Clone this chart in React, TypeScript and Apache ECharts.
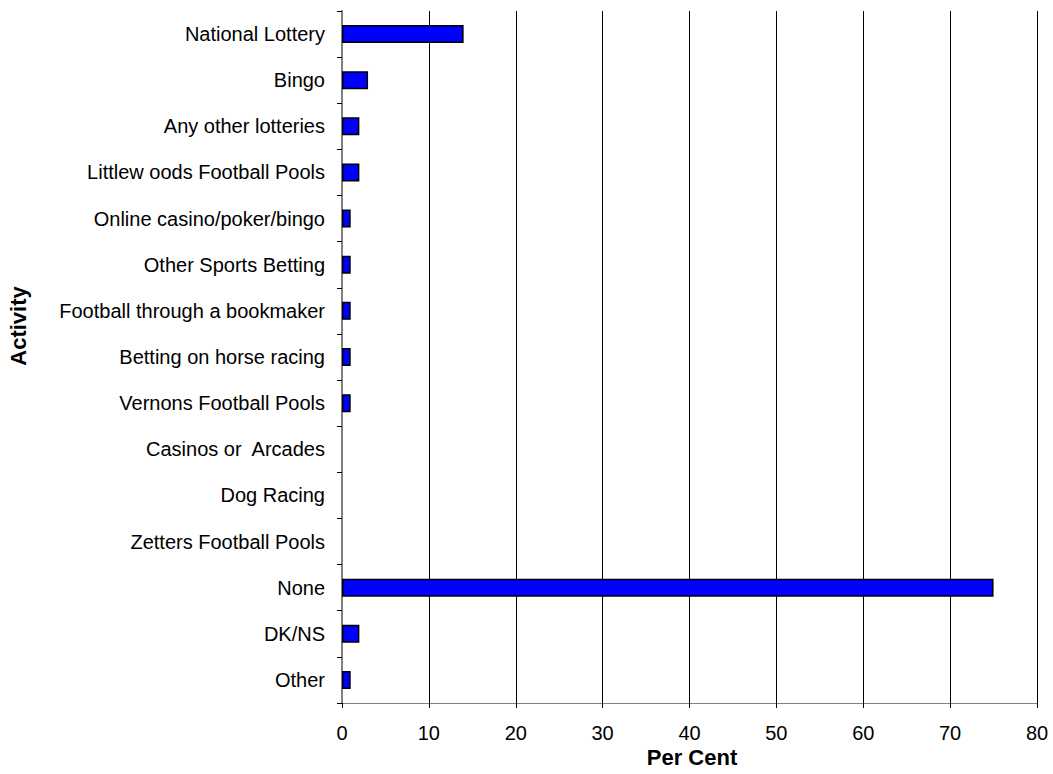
import React, { useEffect, useRef } from "react";
import * as echarts from "echarts";

const categories = [
  "National Lottery",
  "Bingo",
  "Any other lotteries",
  "Littlew oods Football Pools",
  "Online casino/poker/bingo",
  "Other Sports Betting",
  "Football through a bookmaker",
  "Betting on horse racing",
  "Vernons Football Pools",
  "Casinos or  Arcades",
  "Dog Racing",
  "Zetters Football Pools",
  "None",
  "DK/NS",
  "Other",
];
const values = [14, 3, 2, 2, 1, 1, 1, 1, 1, 0, 0, 0, 75, 2, 1];
const xTitle = "Per Cent";
const yTitle = "Activity";

export default function App() {
  const ref = useRef<HTMLDivElement>(null);
  useEffect(() => {
    const chart = echarts.init(ref.current!, null, { renderer: "svg" });
    const font = "'Liberation Sans', Arial, sans-serif";
    chart.setOption({
      animation: false,
      textStyle: { fontFamily: font },
      grid: { left: 342, right: 16, top: 11, bottom: 71, containLabel: false },
      graphic: [
        {
          type: "text",
          x: 692,
          y: 757,
          style: {
            text: xTitle,
            fontSize: 22,
            fontWeight: "bold",
            fill: "#000",
            fontFamily: font,
            align: "center",
            verticalAlign: "middle",
          },
        },
        {
          type: "text",
          x: 18,
          y: 326,
          rotation: Math.PI / 2,
          style: {
            text: yTitle,
            fontSize: 22,
            fontWeight: "bold",
            fill: "#000",
            fontFamily: font,
            align: "center",
            verticalAlign: "middle",
          },
        },
      ],
      xAxis: {
        type: "value",
        min: 0,
        max: 80,
        interval: 10,
        axisLine: { show: true, lineStyle: { color: "#808080", width: 1 } },
        axisTick: { show: true, length: 5, lineStyle: { color: "#000" } },
        axisLabel: { fontSize: 20, color: "#000", margin: 20, fontFamily: font },
        splitLine: { show: true, lineStyle: { color: "#000", width: 1 } },
      },
      yAxis: {
        type: "category",
        data: categories,
        inverse: true,
        axisLine: { show: true, lineStyle: { color: "#808080", width: 2 } },
        axisTick: { show: true, length: 5, lineStyle: { color: "#000" } },
        axisLabel: { fontSize: 20, color: "#000", margin: 17, fontFamily: font },
        splitLine: { show: false },
      },
      series: [
        {
          type: "bar",
          data: values.map((v) => (v === 0 ? { value: v, itemStyle: { borderWidth: 0 } } : v)),
          barWidth: "39%",
          itemStyle: { color: "#0000ff", borderColor: "#000", borderWidth: 1.5 },
        },
      ],
    });
    return () => chart.dispose();
  }, []);
  return <div ref={ref} style={{ width: 1053, height: 774, position: "absolute", left: 0, top: 0 }} />;
}
